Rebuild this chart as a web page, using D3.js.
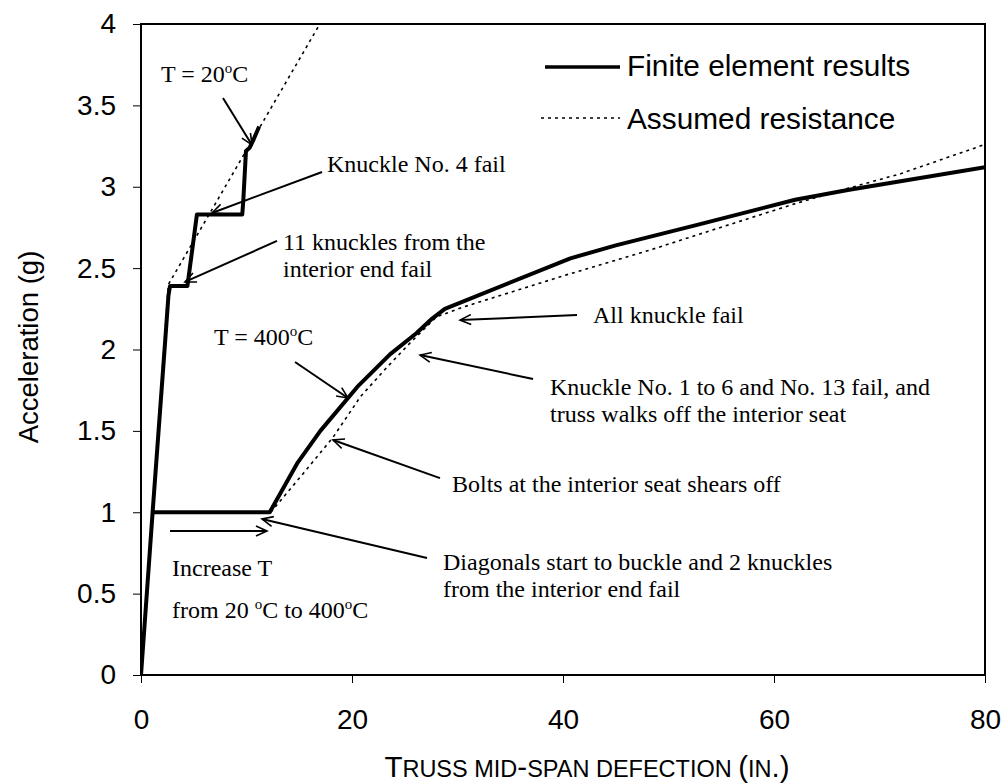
<!DOCTYPE html>
<html>
<head>
<meta charset="utf-8">
<script src="https://cdn.jsdelivr.net/npm/d3@7"></script>
<style>
  html, body { margin: 0; padding: 0; background: #fff; }
  svg { display: block; }
  .sans { font-family: "Liberation Sans", Arial, sans-serif; }
  .serif { font-family: "Liberation Serif", "Times New Roman", serif; }
</style>
</head>
<body>
<svg id="chart" width="1003" height="783"></svg>
<script>
// ---------------- data ----------------
const xTicks = [0, 20, 40, 60, 80];
const yTicks = [0, 0.5, 1, 1.5, 2, 2.5, 3, 3.5, 4];
const yTickLabels = ["0", "0.5", "1", "1.5", "2", "2.5", "3", "3.5", "4"];

// Finite element results, T = 20 C branch
const feX20 = [0, 1.1, 2.3, 2.6, 2.75, 4.4, 5.3, 9.6, 9.7, 9.95, 10.3, 10.6, 11.2];
const feY20 = [0, 1.0, 2.06, 2.33, 2.39, 2.39, 2.83, 2.83, 2.92, 3.22, 3.24, 3.28, 3.37];
// Finite element results, T = 400 C branch
const feX400 = [1.1, 12.2, 14.8, 17.0, 20.5, 23.6, 26.1, 27.6, 28.8, 40.7, 45, 53, 62, 67, 80];
const feY400 = [1.0, 1.0, 1.3, 1.5, 1.77, 1.97, 2.10, 2.19, 2.25, 2.56, 2.64, 2.77, 2.92, 2.98, 3.12];
// Assumed resistance
const arX20 = [0, 2.6, 17.4];
const arY20 = [0, 2.4, 4.05];
const arX400 = [12.3, 15.4, 18.2, 20.8, 23.3, 25.5, 28.0, 30.5, 40.4, 48.2, 53, 62.2, 67, 72, 80];
const arY400 = [1.0, 1.24, 1.46, 1.71, 1.89, 2.04, 2.2, 2.26, 2.46, 2.61, 2.71, 2.9, 2.99, 3.08, 3.26];

const seriesNames = ["Finite element results", "Assumed resistance"];

// annotations: arrow from (x1,y1) to (x2,y2) in data units
const arrows = [
  [7.77, 3.545, 10.52, 3.257],
  [17.16, 3.091, 6.73, 2.839],
  [12.89, 2.667, 4.17, 2.415],
  [14.60, 1.923, 19.62, 1.702],
  [41.33, 2.212, 30.24, 2.181],
  [37.16, 1.819, 26.45, 1.966],
  [28.34, 1.210, 18.20, 1.444],
  [27.11, 0.719, 11.47, 0.959],
  [2.75, 0.885, 11.94, 0.885]
];

// ---------------- layout ----------------
const L = 141, R = 985, T = 24, B = 675;
const svg = d3.select("#chart");
const x = d3.scaleLinear().domain([0, 80]).range([L, R]);
const y = d3.scaleLinear().domain([0, 4]).range([B, T]);

svg.append("defs").append("clipPath").attr("id", "clip")
  .append("rect").attr("x", L).attr("y", T).attr("width", R - L).attr("height", B - T);

const marker = svg.select("defs").append("marker")
  .attr("id", "arr").attr("markerUnits", "userSpaceOnUse")
  .attr("viewBox", "-12 -6 14 12").attr("refX", 0).attr("refY", 0)
  .attr("markerWidth", 14).attr("markerHeight", 12).attr("orient", "auto");
marker.append("path").attr("d", "M-11,-5 L0,0 L-11,5")
  .attr("fill", "none").attr("stroke", "#000").attr("stroke-width", 1.6);

// axes
const xAxis = d3.axisBottom(x).tickValues(xTicks).tickSize(8).tickPadding(26).tickFormat(d3.format("d"));
const yAxis = d3.axisLeft(y).tickValues(yTicks).tickSize(8).tickPadding(17).tickFormat((d, i) => yTickLabels[i]);

const gx = svg.append("g").attr("transform", `translate(0,${B})`).call(xAxis);
const gy = svg.append("g").attr("transform", `translate(${L},0)`).call(yAxis);
[gx, gy].forEach(g => {
  g.select(".domain").remove();
  g.selectAll(".tick line").attr("stroke", "#000").attr("stroke-width", 1);
  g.selectAll(".tick text").attr("class", "sans").attr("font-size", 28).attr("fill", "#000");
});
gx.selectAll(".tick text").attr("dy", "0.71em");

// frame
svg.append("rect").attr("x", L).attr("y", T).attr("width", R - L).attr("height", B - T)
  .attr("fill", "none").attr("stroke", "#000").attr("stroke-width", 2);

// lines
const line = d3.line().x(d => x(d[0])).y(d => y(d[1]));
const zip = (xs, ys) => xs.map((v, i) => [v, ys[i]]);
const plot = svg.append("g").attr("clip-path", "url(#clip)");

plot.append("path").datum(zip(arX20, arY20)).attr("d", line)
  .attr("fill", "none").attr("stroke", "#000").attr("stroke-width", 1.6).attr("stroke-dasharray", "3,4");
plot.append("path").datum(zip(arX400, arY400)).attr("d", line)
  .attr("fill", "none").attr("stroke", "#000").attr("stroke-width", 1.6).attr("stroke-dasharray", "3,4");
plot.append("path").datum(zip(feX20, feY20)).attr("d", line)
  .attr("fill", "none").attr("stroke", "#000").attr("stroke-width", 4).attr("stroke-linejoin", "round");
plot.append("path").datum(zip(feX400, feY400)).attr("d", line)
  .attr("fill", "none").attr("stroke", "#000").attr("stroke-width", 4).attr("stroke-linejoin", "round");

// arrows
svg.append("g").selectAll("line").data(arrows).join("line")
  .attr("x1", d => x(d[0])).attr("y1", d => y(d[1]))
  .attr("x2", d => x(d[2])).attr("y2", d => y(d[3]))
  .attr("stroke", "#000").attr("stroke-width", 2).attr("marker-end", "url(#arr)");

// annotation texts
function ann(px, py, parts) {
  const t = svg.append("text").attr("class", "serif").attr("x", px).attr("y", py)
    .attr("font-size", 24).attr("fill", "#000");
  let prevSup = false;
  parts.forEach(p => {
    if (typeof p === "string") {
      t.append("tspan").attr("dy", prevSup ? 9 : 0).text(p);
      prevSup = false;
    } else {
      t.append("tspan").attr("font-size", 15).attr("dy", -9).text(p.sup);
      prevSup = true;
    }
  });
}
ann(161, 82, ["T = 20", {sup: "o"}, "C"]);
ann(327, 172, ["Knuckle No. 4 fail"]);
ann(283, 250, ["11 knuckles from the"]);
ann(283, 277, ["interior end fail"]);
ann(214, 345, ["T = 400", {sup: "o"}, "C"]);
ann(593, 323, ["All knuckle fail"]);
ann(550, 395, ["Knuckle No. 1 to 6 and No. 13 fail, and"]);
ann(550, 422, ["truss walks off the interior seat"]);
ann(452, 492, ["Bolts at the interior seat shears off"]);
ann(443, 570, ["Diagonals start to buckle and 2 knuckles"]);
ann(443, 597, ["from the interior end fail"]);
ann(172, 576, ["Increase T"]);
ann(172, 618, ["from 20 ", {sup: "o"}, "C to 400", {sup: "o"}, "C"]);

// legend
svg.append("line").attr("x1", 545).attr("x2", 620).attr("y1", 67).attr("y2", 67)
  .attr("stroke", "#000").attr("stroke-width", 3.5);
svg.append("line").attr("x1", 541).attr("x2", 620).attr("y1", 118).attr("y2", 118)
  .attr("stroke", "#000").attr("stroke-width", 1.6).attr("stroke-dasharray", "3,4");
svg.append("text").attr("class", "sans").attr("x", 627).attr("y", 76).attr("font-size", 29.8)
  .attr("fill", "#000").text(seriesNames[0]);
svg.append("text").attr("class", "sans").attr("x", 627).attr("y", 129).attr("font-size", 29.8)
  .attr("fill", "#000").text(seriesNames[1]);

// axis titles
svg.append("text").attr("class", "sans").attr("font-size", 27.5).attr("fill", "#000")
  .attr("text-anchor", "middle")
  .attr("transform", "translate(38,347) rotate(-90)").text("Acceleration (g)");

// x title in manual small caps
const xTitleParts = [["T", 1], ["RUSS MID", 0], ["-", 1], ["SPAN DEFECTION ", 0], ["(", 1], ["IN", 0], [".)", 1]];
const xt = svg.append("text").attr("class", "sans").attr("fill", "#000")
  .attr("text-anchor", "middle").attr("x", 587).attr("y", 777).attr("font-size", 29.5);
xTitleParts.forEach(p => xt.append("tspan").attr("font-size", p[1] ? 29.5 : 23.5).text(p[0]));
</script>
</body>
</html>
